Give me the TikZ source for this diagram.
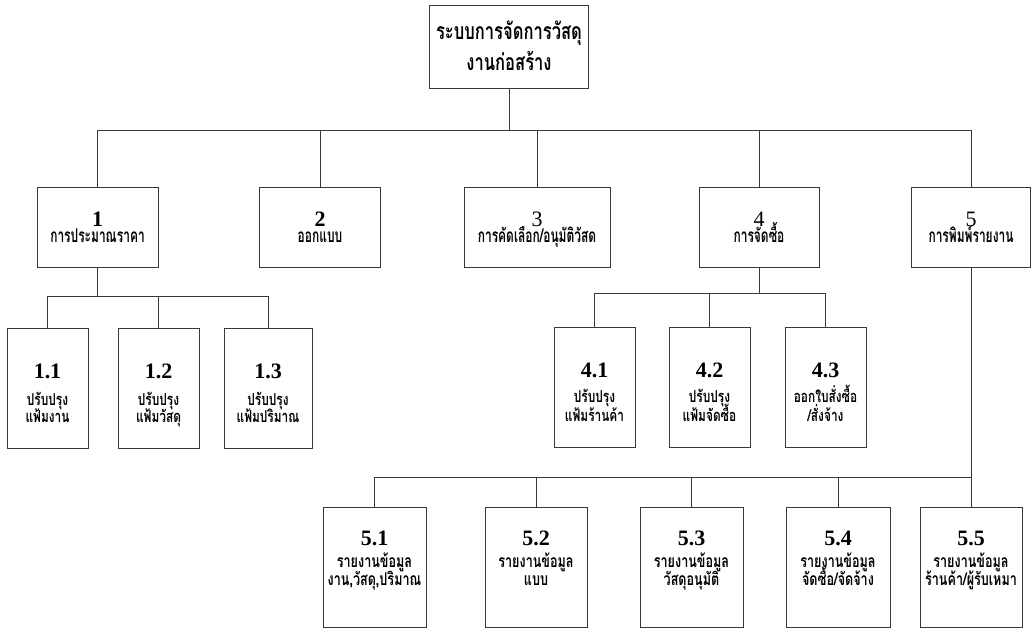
\documentclass[tikz,border=0pt]{standalone}
\usepackage{fontspec}
\setmainfont{Liberation Serif}
\newfontfamily\thai[Script=Thai,FakeStretch=0.72]{Loma}
\newfontfamily\thaiN[Script=Thai,FakeStretch=0.63]{Loma}
\begin{document}
\begin{tikzpicture}[x=1pt,y=-1pt,
  box/.style={draw=black!78,line width=1pt,rectangle,inner sep=0pt},
  conn/.style={draw=black!78,line width=1pt},
  rootlbl/.style={anchor=base,inner sep=0pt,font=\thai\bfseries\fontsize{23}{23}\selectfont},
  numA/.style={anchor=base,inner sep=0pt,font=\bfseries\fontsize{22}{22}\selectfont},
  numR/.style={anchor=base,inner sep=0pt,font=\fontsize{22}{22}\selectfont},
  lblA/.style={anchor=base,inner sep=0pt,font=\thaiN\bfseries\fontsize{19}{19}\selectfont},
  numB/.style={anchor=base,inner sep=0pt,font=\bfseries\fontsize{22}{22}\selectfont},
  lblB/.style={anchor=base,inner sep=0pt,font=\thai\bfseries\fontsize{16.5}{16.5}\selectfont},
  lblC/.style={anchor=base,inner sep=0pt,font=\thai\bfseries\fontsize{17.5}{17.5}\selectfont}
]
\useasboundingbox[fill=white] (0,0) rectangle (1031,629);

% root
\node[box,minimum width=159pt,minimum height=83pt] (root) at (509,46.5) {};
\node[rootlbl] (rt1) at (509,39) {ระบบการจัดการวัสดุ};
\node[rootlbl] (rt2) at (509,70) {งานก่อสร้าง};

% level 1
\node[box,minimum width=121pt,minimum height=80pt] (b1) at (97.5,227) {};
\node[box,minimum width=121pt,minimum height=80pt] (b2) at (320,227) {};
\node[box,minimum width=146pt,minimum height=80pt] (b3) at (537,227) {};
\node[box,minimum width=120pt,minimum height=80pt] (b4) at (759,227) {};
\node[box,minimum width=119pt,minimum height=80pt] (b5) at (971,227) {};
\node[numA] (n1) at (97.5,226) {1};
\node[lblA] (t1) at (97.5,242) {การประมาณราคา};
\node[numA] (n2) at (320,226) {2};
\node[lblA] (t2) at (320,242) {ออกแบบ};
\node[numR] (n3) at (537,226) {3};
\node[lblA] (t3) at (537,242) {การคัดเลือก/อนุมัติวัสด};
\node[numR] (n4) at (759,226) {4};
\node[lblA] (t4) at (759,242) {การจัดซื้อ};
\node[numR] (n5) at (971,226) {5};
\node[lblA] (t5) at (971,242) {การพิมพ์รายงาน};

% level 2 under 1
\node[box,minimum width=81pt,minimum height=120pt] (b11) at (47.5,388) {};
\node[box,minimum width=81pt,minimum height=120pt] (b12) at (158.5,388) {};
\node[box,minimum width=88pt,minimum height=120pt] (b13) at (268,388) {};
\node[numB] (n11) at (47.5,378) {1.1};
\node[lblB] (t11a) at (47.5,405) {ปรับปรุง};
\node[lblB] (t11b) at (47.5,422) {แฟ้มงาน};
\node[numB] (n12) at (158.5,378) {1.2};
\node[lblB] (t12a) at (158.5,405) {ปรับปรุง};
\node[lblB] (t12b) at (158.5,422) {แฟ้มวัสดุ};
\node[numB] (n13) at (268,378) {1.3};
\node[lblB] (t13a) at (268,405) {ปรับปรุง};
\node[lblB] (t13b) at (268,422) {แฟ้มปริมาณ};

% level 2 under 4
\node[box,minimum width=81pt,minimum height=120pt] (b41) at (594.5,387) {};
\node[box,minimum width=81pt,minimum height=120pt] (b42) at (709.5,387) {};
\node[box,minimum width=81pt,minimum height=120pt] (b43) at (825.5,387) {};
\node[numB] (n41) at (594.5,377) {4.1};
\node[lblB] (t41a) at (594.5,402) {ปรับปรุง};
\node[lblB] (t41b) at (594.5,421) {แฟ้มร้านค้า};
\node[numB] (n42) at (709.5,377) {4.2};
\node[lblB] (t42a) at (709.5,402) {ปรับปรุง};
\node[lblB] (t42b) at (709.5,421) {แฟ้มจัดซื้อ};
\node[numB] (n43) at (825.5,377) {4.3};
\node[lblB] (t43a) at (825.5,402) {ออกใบสั่งซื้อ};
\node[lblB] (t43b) at (825.5,421) {/สั่งจ้าง};

% level 3 under 5
\node[box,minimum width=103pt,minimum height=120pt] (b51) at (374.5,567) {};
\node[box,minimum width=102pt,minimum height=120pt] (b52) at (536,567) {};
\node[box,minimum width=103pt,minimum height=120pt] (b53) at (691.5,567) {};
\node[box,minimum width=104pt,minimum height=120pt] (b54) at (838,567) {};
\node[box,minimum width=102pt,minimum height=120pt] (b55) at (971,567) {};
\node[numB] (n51) at (374.5,545) {5.1};
\node[lblC] (t51a) at (374.5,567) {รายงานข้อมูล};
\node[lblC] (t51b) at (374.5,585) {งาน,วัสดุ,ปริมาณ};
\node[numB] (n52) at (536,545) {5.2};
\node[lblC] (t52a) at (536,567) {รายงานข้อมูล};
\node[lblC] (t52b) at (536,585) {แบบ};
\node[numB] (n53) at (691.5,545) {5.3};
\node[lblC] (t53a) at (691.5,567) {รายงานข้อมูล};
\node[lblC] (t53b) at (691.5,585) {วัสดุอนุมัติ};
\node[numB] (n54) at (838,545) {5.4};
\node[lblC] (t54a) at (838,567) {รายงานข้อมูล};
\node[lblC] (t54b) at (838,585) {จัดซื้อ/จัดจ้าง};
\node[numB] (n55) at (971,545) {5.5};
\node[lblC] (t55a) at (971,567) {รายงานข้อมูล};
\node[lblC] (t55b) at (971,585) {ร้านค้า/ผู้รับเหมา};

% buses
\coordinate (busA) at (0,130);
\coordinate (busB) at (0,296);
\coordinate (busC) at (0,293);
\coordinate (busD) at (0,477);

\draw[conn] (root.south) -- (root.south |- busA);
\draw[conn] (b1.north) -- (b1.north |- busA) -- (b5.north |- busA) -- (b5.north);
\draw[conn] (b2.north) -- (b2.north |- busA);
\draw[conn] (b3.north) -- (b3.north |- busA);
\draw[conn] (b4.north) -- (b4.north |- busA);

\draw[conn] (b1.south) -- (b1.south |- busB);
\draw[conn] (b11.north) -- (b11.north |- busB) -- (b13.north |- busB) -- (b13.north);
\draw[conn] (b12.north) -- (b12.north |- busB);

\draw[conn] (b4.south) -- (b4.south |- busC);
\draw[conn] (b41.north) -- (b41.north |- busC) -- (b43.north |- busC) -- (b43.north);
\draw[conn] (b42.north) -- (b42.north |- busC);

\draw[conn] (b5.south) -- (b55.north);
\draw[conn] (b51.north) -- (b51.north |- busD) -- (b55.north |- busD);
\draw[conn] (b52.north) -- (b52.north |- busD);
\draw[conn] (b53.north) -- (b53.north |- busD);
\draw[conn] (b54.north) -- (b54.north |- busD);
\end{tikzpicture}
\end{document}
